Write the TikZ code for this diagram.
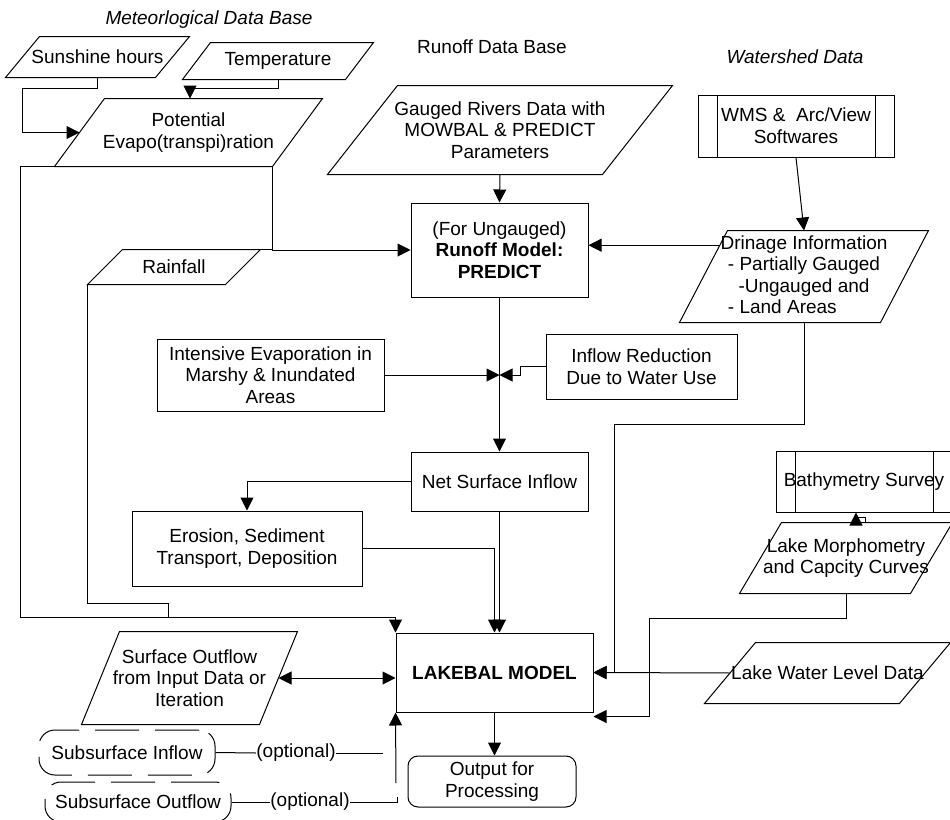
\documentclass[tikz,border=0pt]{standalone}
\usepackage{fontspec}
\setmainfont{Liberation Sans}
\usetikzlibrary{arrows.meta,calc}
\newcommand{\paradraw}[2]{%
	\coordinate (#1-tl) at ($(#1.north west)+(#2/2,0)$);
	\coordinate (#1-tr) at ($(#1.north east)+(#2/2,0)$);
	\coordinate (#1-br) at ($(#1.south east)+(-#2/2,0)$);
	\coordinate (#1-bl) at ($(#1.south west)+(-#2/2,0)$);
	\draw (#1-bl) -- (#1-tl) -- (#1-tr) -- (#1-br) -- cycle;}

\begin{document}
\begin{tikzpicture}[x=0.5pt,y=-0.5pt,line width=0.5pt]
	\tikzset{every node/.style={font=\fontsize{9.5}{10.8}\selectfont,align=center,inner sep=0pt}}
	\tikzset{datain/.style={rectangle}}
	\tikzset{procbox/.style={draw,rectangle}}
	\tikzset{process/.style={draw,rectangle,path picture={
		\draw ([xshift=9.5pt]path picture bounding box.north west) -- ([xshift=9.5pt]path picture bounding box.south west)
			([xshift=-9.5pt]path picture bounding box.north east) -- ([xshift=-9.5pt]path picture bounding box.south east);}}}
	\tikzset{term/.style={draw,rounded corners=5pt}}
	\tikzset{subsurf/.style={draw,rounded corners=8pt,dash pattern=on 22pt off 8pt}}
	\tikzset{arr/.style={-{Triangle[length=6.5pt,width=6.5pt]}}}
	\tikzset{darr/.style={{Triangle[length=6.5pt,width=6.5pt]}-{Triangle[length=6.5pt,width=6.5pt]}}}
	\useasboundingbox (0,0) rectangle (950,820);
	% headings
	\node (metlab) at (209,20) {\itshape Meteorlogical Data Base};
	\node (runlab) at (492,47) {Runoff Data Base};
	\node (watlab) at (795,57) {\itshape Watershed Data};
	% input data
	\node[datain,minimum width=74.5pt,minimum height=20pt] (sun) at (97.5,57) {Sunshine hours};
	\node[datain,minimum width=81pt,minimum height=18pt] (temp) at (278,61) {Temperature};
	\node[datain,minimum width=108.5pt,minimum height=33.5pt] (pet) at (188.5,132.5) {Potential\\Evapo(transpi)ration};
	\node[datain,minimum width=68.5pt,minimum height=17pt] (rain) at (174,267) {Rainfall};
	\node[datain,minimum width=137pt,minimum height=44pt] (gauge) at (500,130) {Gauged Rivers Data with\\MOWBAL \& PREDICT\\Parameters};
	\node[process,minimum width=98pt,minimum height=31pt] (wms) at (796,126) {WMS \&~ Arc/View\\Softwares};
	\node[datain,minimum width=100pt,minimum height=45.5pt] (drain) at (804,276.5) {Drinage Information\\- Partially Gauged\\-Ungauged and\\\rlap{- Land Areas}\phantom{- Partially Gauged}};
	\paradraw{sun}{34}
	\paradraw{temp}{28}
	\paradraw{pet}{50}
	\paradraw{rain}{35}
	\paradraw{gauge}{70}
	\paradraw{drain}{48}
	% models
	\node[procbox,minimum width=88.5pt,minimum height=47pt] (runoff) at (499.5,250) {(For Ungauged)\\\textbf{Runoff Model:}\\\textbf{PREDICT}};
	\node[procbox,minimum width=113.5pt,minimum height=36pt] (intens) at (270.5,375) {Intensive Evaporation in\\Marshy \& Inundated\\Areas};
	\node[procbox,minimum width=95.5pt,minimum height=32.5pt] (inflow) at (641.5,366.5) {Inflow Reduction\\Due to Water Use};
	\node[procbox,minimum width=88.5pt,minimum height=29.5pt] (net) at (499.5,481.5) {Net Surface Inflow};
	\node[procbox,minimum width=115pt,minimum height=37.5pt] (erosion) at (247,548.5) {Erosion, Sediment\\Transport, Deposition};
	\node[process,minimum width=88pt,minimum height=30.5pt] (bathy) at (864,481.5) {Bathymetry Survey};
	\node[datain,minimum width=85pt,minimum height=35pt] (morph) at (846,558) {Lake Morphometry\\and Capcity Curves};
	\node[procbox,minimum width=98.5pt,minimum height=39.5pt] (lake) at (494.5,672.5) {\textbf{LAKEBAL MODEL}};
	\node[datain,minimum width=97pt,minimum height=30pt] (lwl) at (827.5,673) {Lake Water Level Data};
	\node[datain,minimum width=88.5pt,minimum height=46pt] (surfout) at (189.5,678) {Surface Outflow\\from Input Data or\\Iteration};
	\paradraw{morph}{42}
	\paradraw{lwl}{51}
	\paradraw{surfout}{38}
	\node[term,minimum width=84pt,minimum height=25.5pt] (output) at (492,781.5) {Output for\\Processing};
	\node[subsurf,minimum width=88pt,minimum height=22.5pt] (subin) at (127,752.5) {Subsurface Inflow};
	\node[subsurf,minimum width=93pt,minimum height=20pt] (subout) at (138,802) {Subsurface Outflow};
	\node (opt1) at (296,753) {(optional)};
	\node (opt2) at (310,802) {(optional)};
	% bends
	\coordinate (sk) at (22,88);
	\coordinate (tk) at (190,88);
	\coordinate (pl) at (20,617);
	\coordinate (rl) at (168,603);
	\coordinate (jn) at (499.5,375);
	\coordinate (dw) at ($(drain-tl)!0.16!(drain-bl)$);
	\coordinate (db) at (614,424);
	\coordinate (mb) at (649,618);
	\coordinate (ls) at ($(lake.south east)+(0,4)$);
	\coordinate (ms) at (865,517);
	\coordinate (bs) at ($(bathy.south)+(-8,0)$);
	\coordinate (oi) at (383,753);
	\coordinate (oo) at (397,802);
	\coordinate (ua) at (396,783);
	% connectors
	\draw[arr] (sun.south) |- (sk) |- (pet.west);
	\draw[arr] (temp.south) |- (tk) -- (tk |- pet.north);
	\draw[arr] (pet-bl) -| (pl) -| (lake.north west);
	\draw[arr] (pet-br) |- (runoff.west);
	\draw (rain-tr) -- (pet-br |- rain-tr);
	\draw (rain-bl) |- (rl) -- (rl |- pl);
	\draw[arr] (gauge.south) -- (runoff.north);
	\draw[arr] (wms.south) -- (drain.north);
	\draw[arr] (dw) -- (dw -| runoff.east);
	\draw (runoff.south) -- (jn);
	\draw[arr] (jn) -- (net.north);
	\draw[arr] (intens.east) -- (jn);
	\draw[arr] (inflow.west) -- ++(-25,0) |- (jn);
	\draw[arr] (net.west) -| (erosion.north);
	\draw[arr] (erosion.east) -| (lake.north);
	\draw[arr] (net.south) -- (net.south |- lake.north);
	\draw[arr] (drain.south) |- (db) |- (lake.east);
	\draw[arr] (lwl.west) -- (lake.east);
	\draw[arr] (morph.south) |- (mb) |- (ls);
	\draw[arr] (morph.north -| ms) -- (ms) -| (bs);
	\draw[darr] (surfout.east) -- (surfout.east -| lake.west);
	\draw[arr] (lake.south) -- (lake.south |- output.north);
	\draw (subin.east) -- (opt1.west);
	\draw (opt1.east) -- (oi);
	\draw (subout.east) -- (opt2.west);
	\draw (opt2.east) -- (oo) -- ++(0,-5);
	\draw[arr] (ua) -- (lake.south west);
\end{tikzpicture}
\end{document}
